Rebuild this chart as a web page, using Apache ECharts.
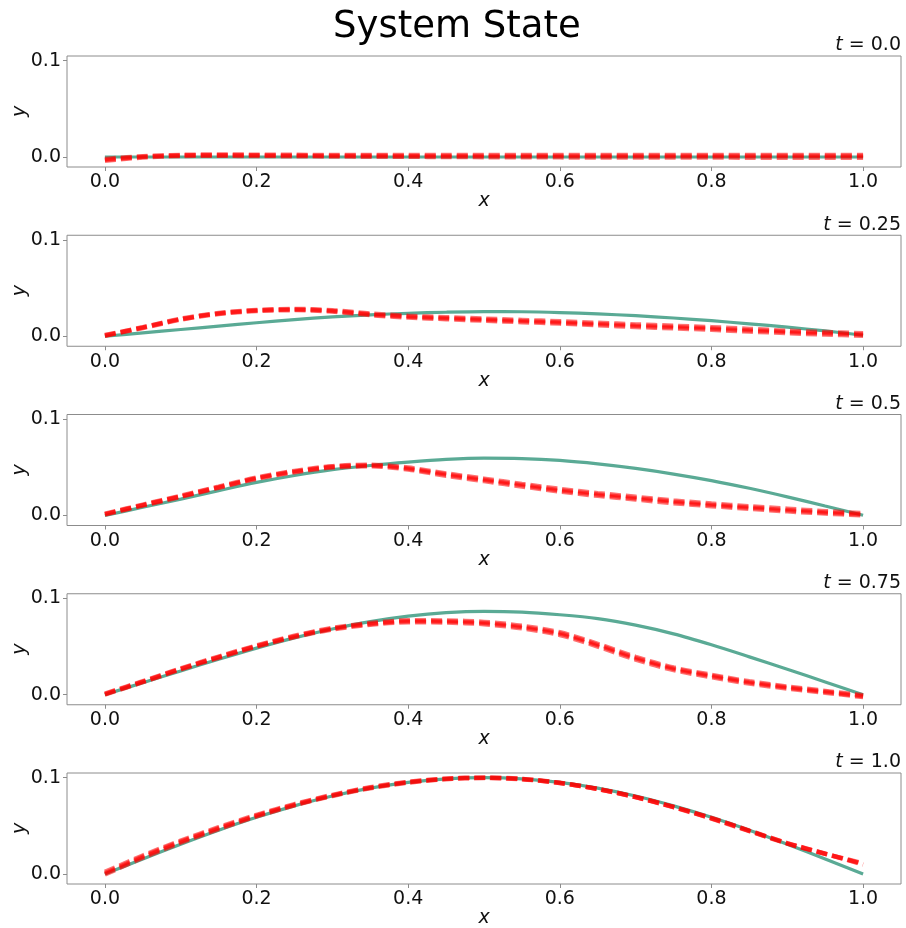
<!DOCTYPE html>
<html>
<head>
<meta charset="utf-8">
<script src="https://cdn.jsdelivr.net/npm/echarts@6/dist/echarts.min.js"></script>
<style>
html,body{margin:0;padding:0;background:#fff;}
#chart{width:906px;height:928px;}
</style>
</head>
<body>
<div id="chart"></div>
<script>
// ---- data ----
const titleText = "System State";
const timeLabels = ["0.0", "0.25", "0.5", "0.75", "1.0"];
const xs = [0, 0.05, 0.1, 0.15, 0.2, 0.25, 0.3, 0.35, 0.4, 0.45, 0.5, 0.55, 0.6, 0.65, 0.7, 0.75, 0.8, 0.85, 0.9, 0.95, 1.0];
const xTicks = [0, 0.2, 0.4, 0.6, 0.8, 1.0];
const yTicks = [0, 0.1];

// target (green) curves
const green0 = [0, 0, 0, 0, 0, 0, 0, 0, 0, 0, 0, 0, 0, 0, 0, 0, 0, 0, 0, 0, 0];
const green1 = [0, 0.0035, 0.007, 0.0105, 0.014, 0.0172, 0.0201, 0.0222, 0.0238, 0.0249, 0.0255, 0.0254, 0.0246, 0.0232, 0.0213, 0.0189, 0.0161, 0.0129, 0.0094, 0.0055, 0.001];
const green2 = [0, 0.0085, 0.017, 0.0258, 0.0343, 0.0415, 0.0475, 0.0519, 0.0554, 0.0582, 0.0596, 0.0591, 0.0571, 0.0535, 0.0488, 0.043, 0.0362, 0.0282, 0.0193, 0.0098, 0.0003];
const green3 = [0, 0.0125, 0.0247, 0.0368, 0.0484, 0.059, 0.0682, 0.0758, 0.0815, 0.0852, 0.0866, 0.0858, 0.083, 0.079, 0.0722, 0.0632, 0.0518, 0.0393, 0.0265, 0.0133, 0];
const green4 = [0, 0.0156, 0.0309, 0.0454, 0.0588, 0.0707, 0.0809, 0.0891, 0.0951, 0.0988, 0.1, 0.0988, 0.0951, 0.0891, 0.0809, 0.0707, 0.0588, 0.0454, 0.0309, 0.0156, 0];

// predicted (red dashed) curves, three per panel
const red0a = [-0.002, 0.0008, 0.0022, 0.0025, 0.0024, 0.0022, 0.0021, 0.002, 0.002, 0.002, 0.002, 0.002, 0.002, 0.002, 0.002, 0.002, 0.002, 0.002, 0.002, 0.002, 0.002];
const red0b = [-0.003, 0.0002, 0.0016, 0.0019, 0.0017, 0.0015, 0.0013, 0.0012, 0.0011, 0.001, 0.001, 0.001, 0.001, 0.001, 0.001, 0.001, 0.001, 0.001, 0.001, 0.001, 0.001];
const red0c = [-0.004, -0.0005, 0.001, 0.0012, 0.001, 0.0008, 0.0005, 0.0003, 0.0002, 0, -0.0002, -0.0003, -0.0004, -0.0005, -0.0005, -0.0006, -0.0006, -0.0007, -0.0007, -0.0008, -0.0008];

const red1a = [0.0012, 0.0094, 0.0182, 0.0241, 0.0272, 0.0283, 0.027, 0.0235, 0.0212, 0.0197, 0.0183, 0.0169, 0.0155, 0.0139, 0.0123, 0.0109, 0.0094, 0.0076, 0.0057, 0.0044, 0.003];
const red1b = [0.0008, 0.009, 0.0177, 0.0236, 0.0267, 0.0277, 0.0263, 0.0227, 0.0203, 0.0187, 0.0172, 0.0157, 0.0143, 0.0126, 0.0109, 0.0095, 0.008, 0.0062, 0.0045, 0.003, 0.0018];
const red1c = [0.0004, 0.0086, 0.0172, 0.0231, 0.0262, 0.0271, 0.0256, 0.0219, 0.0194, 0.0177, 0.0161, 0.0146, 0.0131, 0.0114, 0.0096, 0.0082, 0.0067, 0.0049, 0.0032, 0.0017, 0.0006];

const red2a = [0.0019, 0.0113, 0.0205, 0.0299, 0.0393, 0.0462, 0.0512, 0.0527, 0.0497, 0.0437, 0.0382, 0.0328, 0.0276, 0.0232, 0.0194, 0.0156, 0.0124, 0.0096, 0.007, 0.0045, 0.0024];
const red2b = [0.0014, 0.0108, 0.0199, 0.0293, 0.0387, 0.0455, 0.0505, 0.0519, 0.0487, 0.0425, 0.037, 0.0315, 0.0262, 0.0218, 0.018, 0.0142, 0.011, 0.0082, 0.0056, 0.0032, 0.0012];
const red2c = [0.0009, 0.0103, 0.0193, 0.0287, 0.0381, 0.0448, 0.0498, 0.0511, 0.0477, 0.0413, 0.0357, 0.0301, 0.0248, 0.0204, 0.0166, 0.0128, 0.0097, 0.0069, 0.0043, 0.002, 0.0001];

const red3a = [0.0012, 0.014, 0.0273, 0.0396, 0.0511, 0.0612, 0.0693, 0.0744, 0.0772, 0.0771, 0.0756, 0.0716, 0.0648, 0.0528, 0.0393, 0.0282, 0.0207, 0.0139, 0.0085, 0.004, -0.0006];
const red3b = [0.0007, 0.0135, 0.0268, 0.039, 0.0505, 0.0605, 0.0685, 0.0735, 0.0762, 0.076, 0.0744, 0.0702, 0.0635, 0.0515, 0.038, 0.027, 0.0195, 0.0128, 0.0075, 0.003, -0.0015];
const red3c = [0.0002, 0.013, 0.0263, 0.0384, 0.0499, 0.0598, 0.0677, 0.0726, 0.0752, 0.0749, 0.0732, 0.0689, 0.062, 0.05, 0.0365, 0.0256, 0.0182, 0.0116, 0.0064, 0.002, -0.0024];

const red4a = [0.0022, 0.0192, 0.0346, 0.0485, 0.0613, 0.0725, 0.0821, 0.09, 0.0956, 0.099, 0.1, 0.0987, 0.0946, 0.0882, 0.0797, 0.0693, 0.0575, 0.0445, 0.0316, 0.0209, 0.0112];
const red4b = [0.0008, 0.018, 0.0335, 0.0475, 0.0605, 0.0718, 0.0815, 0.0895, 0.0952, 0.0987, 0.0998, 0.0985, 0.0945, 0.0882, 0.0798, 0.0695, 0.0578, 0.0448, 0.0318, 0.021, 0.0105];
const red4c = [-0.0006, 0.0168, 0.0324, 0.0466, 0.0597, 0.0712, 0.081, 0.089, 0.0948, 0.0984, 0.0996, 0.0983, 0.0944, 0.0882, 0.0799, 0.0697, 0.0581, 0.0451, 0.032, 0.0211, 0.0098];

const greens = [green0, green1, green2, green3, green4];
const reds = [[red0a, red0b, red0c], [red1a, red1b, red1c], [red2a, red2b, red2c], [red3a, red3b, red3c], [red4a, red4b, red4c]];

// ---- layout / style ----
const FONT = "DejaVu Sans";
const GREEN = "#5aaa95";
const panelTop0 = 56, panelStep = 179.25, panelH = 111;
const gridLeft = 67, gridW = 834;
const TICK_FS = 19;

const grids = [], xAxes = [], yAxes = [], series = [], titles = [];
titles.push({
  text: titleText, left: 333, top: 9, padding: 0,
  textStyle: {fontFamily: FONT, fontSize: 37, fontWeight: "normal", color: "#000"}
});
for (let k = 0; k < 5; k++) {
  const top = panelTop0 + panelStep * k;
  grids.push({left: gridLeft, top: top, width: gridW, height: panelH, show: true,
    outerBoundsMode: "none", containLabel: false,
    borderColor: "#8c8c8c", borderWidth: 1, backgroundColor: "#fff"});
  xAxes.push({
    type: "value", gridIndex: k, min: -0.05, max: 1.05,
    name: "x", nameLocation: "middle", nameGap: 25, nameMoveOverlap: false,
    nameTextStyle: {fontFamily: FONT, fontSize: TICK_FS, fontStyle: "italic", color: "#111"},
    axisLine: {show: false, onZero: false},
    axisTick: {show: true, length: 4, lineStyle: {color: "#8c8c8c"}, customValues: xTicks},
    axisLabel: {fontFamily: FONT, fontSize: TICK_FS, color: "#111", margin: 6, customValues: xTicks,
      formatter: v => v.toFixed(1)},
    splitLine: {show: false}
  });
  yAxes.push({
    type: "value", gridIndex: k, min: -0.0104, max: 0.1048,
    name: "y", nameLocation: "middle", nameGap: 37, nameRotate: 90, nameMoveOverlap: false,
    nameTextStyle: {fontFamily: FONT, fontSize: TICK_FS, fontStyle: "italic", color: "#111"},
    axisLine: {show: false, onZero: false},
    axisTick: {show: true, length: 4, lineStyle: {color: "#8c8c8c"}, customValues: yTicks},
    axisLabel: {fontFamily: FONT, fontSize: TICK_FS, color: "#111", margin: 6, customValues: yTicks,
      formatter: v => v.toFixed(1)},
    splitLine: {show: false}
  });
  titles.push({
    text: "{i|t} = " + timeLabels[k], right: 5, top: top - 20, padding: 0,
    textStyle: {fontFamily: FONT, fontSize: TICK_FS, fontWeight: "normal", color: "#111",
      rich: {i: {fontFamily: FONT, fontSize: TICK_FS, fontStyle: "italic", color: "#111"}}}
  });
  series.push({
    type: "line", xAxisIndex: k, yAxisIndex: k, showSymbol: false, symbol: "none",
    smooth: 0.3, clip: false, silent: true, z: 2,
    lineStyle: {color: GREEN, width: 3.2},
    data: xs.map((x, i) => [x, greens[k][i]])
  });
  reds[k].forEach(arr => {
    series.push({
      type: "line", xAxisIndex: k, yAxisIndex: k, showSymbol: false, symbol: "none",
      smooth: 0.3, clip: false, silent: true, z: 3,
      lineStyle: {color: "rgba(255,0,0,0.55)", width: 4.5, type: [11, 5]},
      data: xs.map((x, i) => [x, arr[i]])
    });
  });
}

const chart = echarts.init(document.getElementById("chart"), null, {renderer: "canvas"});
chart.setOption({
  animation: false,
  backgroundColor: "#fff",
  title: titles,
  grid: grids,
  xAxis: xAxes,
  yAxis: yAxes,
  series: series
});
</script>
</body>
</html>
